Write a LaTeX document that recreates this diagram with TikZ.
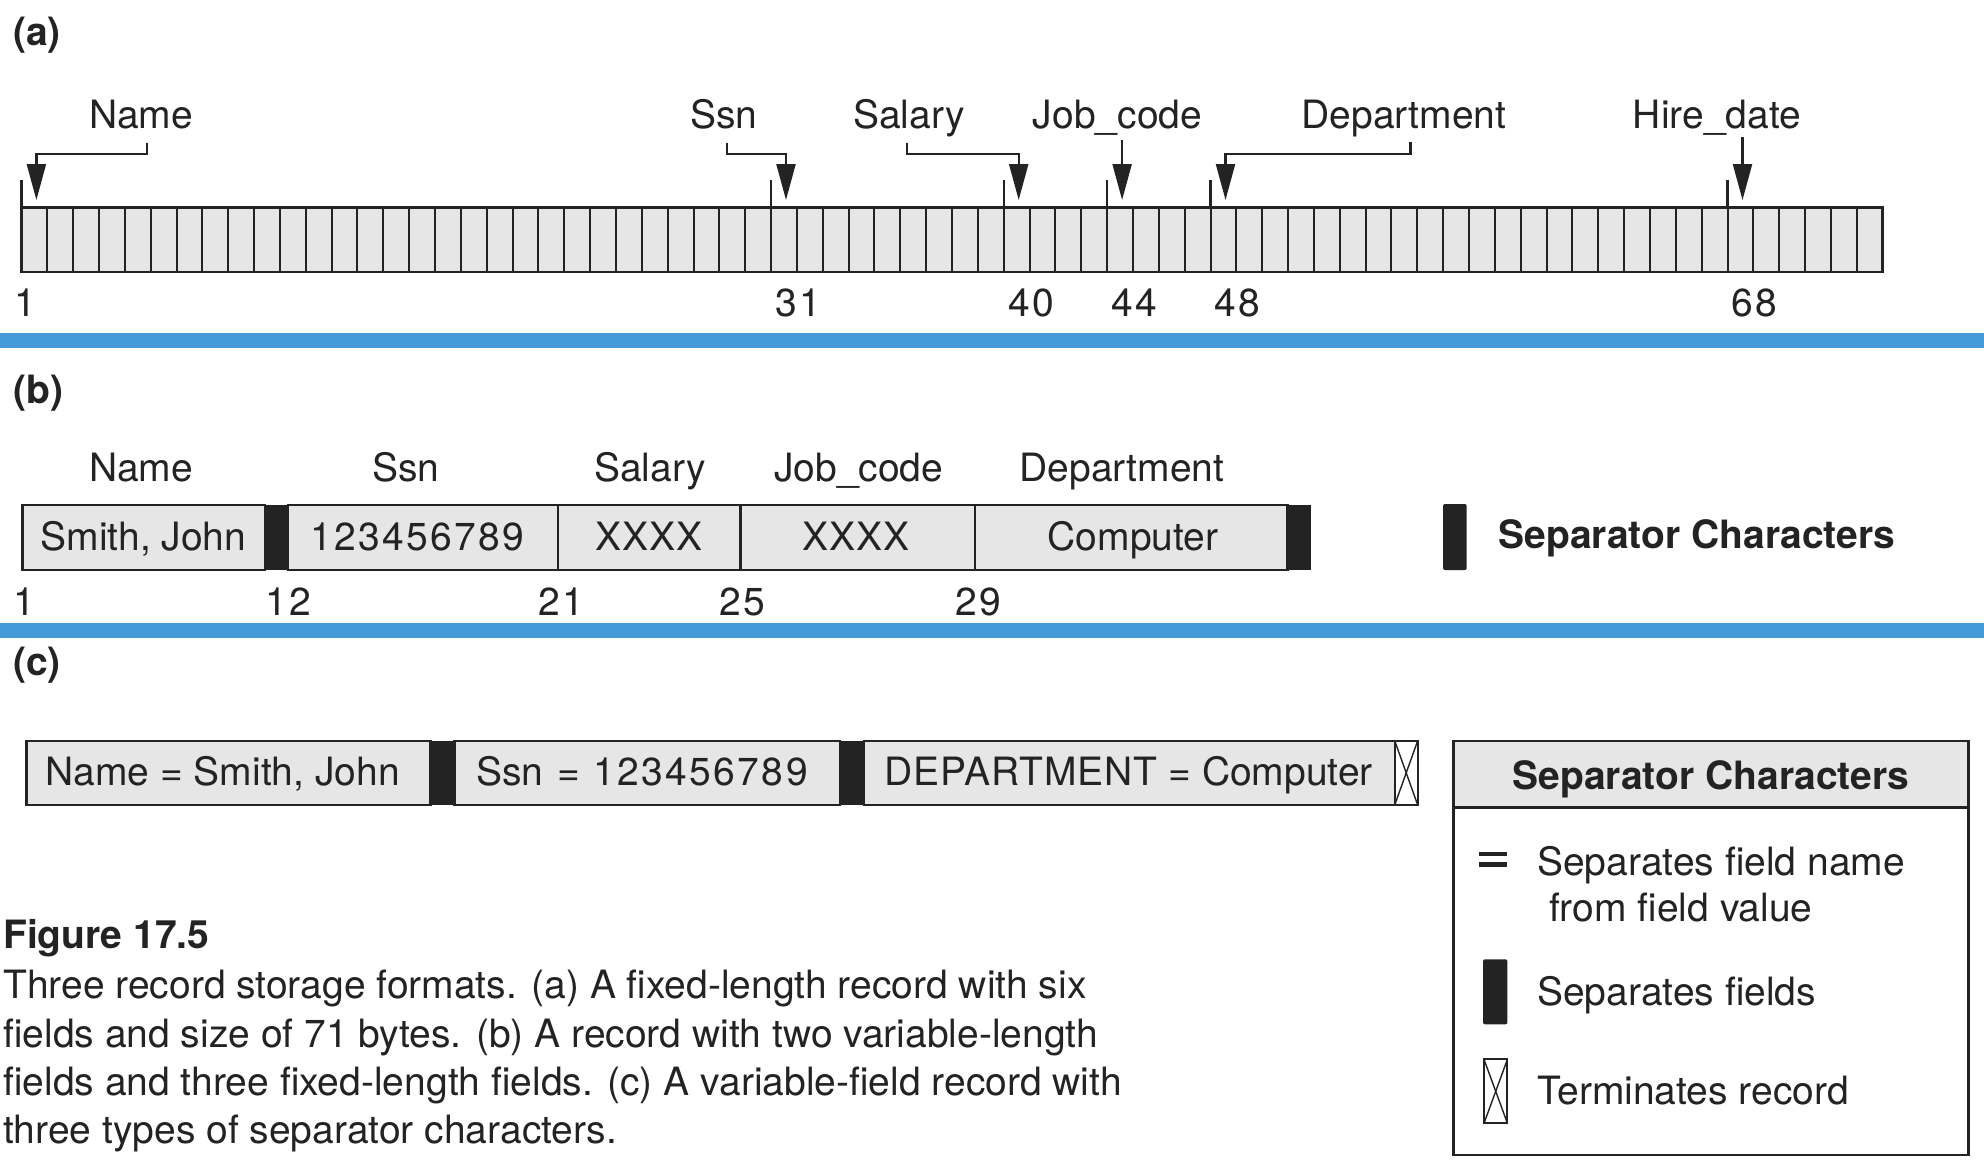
\documentclass[tikz,border=0pt]{standalone}
\usepackage{fontspec}
\setmainfont{TeX Gyre Heros}
\newfontfamily\widedigits[LetterSpace=6]{TeX Gyre Heros}
\newfontfamily\widecaps[LetterSpace=2.5]{TeX Gyre Heros}
\usetikzlibrary{arrows.meta}
\definecolor{blueband}{RGB}{68,153,215}
\definecolor{cellfill}{RGB}{230,230,230}
\definecolor{ink}{RGB}{35,35,35}
\begin{document}
\begin{tikzpicture}[x=1pt,y=-1pt,
  txt/.style={font=\fontsize{39}{46}\selectfont, inner sep=0pt, text=ink},
  btxt/.style={font=\fontsize{39}{46}\selectfont\bfseries, inner sep=0pt, text=ink},
  boxline/.style={draw=ink, line width=2.4pt},
  cellline/.style={draw=ink, line width=2pt},
  tickline/.style={draw=ink, line width=2.2pt},
  arr/.style={draw=ink, line width=2.2pt, -{Triangle[length=36pt,width=19pt]}},
  plain/.style={draw=ink, line width=2.2pt},
  sepbar/.style={fill=ink},
  fieldbox/.style={fill=cellfill, draw=ink, line width=2.4pt}]
\useasboundingbox (0,0) rectangle (1984,1162);
\fill[white] (0,0) rectangle (1984,1162);

% ---------------- (a) ----------------
\node[btxt, anchor=base west] (pa) at (13,45) {(a)};
\node[txt, anchor=base] (aName) at (141,128.3) {Name};
\node[txt, anchor=base] (aSsn) at (724,128.3) {Ssn};
\node[txt, anchor=base] (aSal) at (909,128.3) {Salary};
\node[txt, anchor=base] (aJob) at (1117.5,128.3) {Job\_code};
\node[txt, anchor=base] (aDep) at (1404,128.3) {Department};
\node[txt, anchor=base] (aHire) at (1717,128.3) {Hire\_date};

\fill[cellfill] (21.4,207.3) rectangle (1882.6,271.7);
\foreach \i in {1,...,71} \draw[cellline] ({21.4+\i*25.85},207.3) -- ++(0,64.4);
\draw[boxline] (21.4,207.3) rectangle (1882.6,271.7);
\foreach \k in {0,29,38,42,46,66} \draw[tickline] ({21.4+\k*25.85},180) -- ({21.4+\k*25.85},207.3);

\coordinate (sName) at (146.7,142.7);
\coordinate (tName) at (36.4,200);
\coordinate (sSsn) at (727,142.7);
\coordinate (tSsn) at (786,200);
\coordinate (sSal) at (906.7,142.7);
\coordinate (tSal) at (1018.7,200);
\coordinate (sJob) at (1122.1,140);
\coordinate (tJob) at (1122.1,200);
\coordinate (sDep) at (1410.4,141.7);
\coordinate (tDep) at (1225.5,200);
\coordinate (sHire) at (1742.5,137);
\coordinate (tHire) at (1742.5,200);

\draw[arr] (sName) -- (146.7,154) -| (tName);
\draw[arr] (sSsn) -- (727,154) -| (tSsn);
\draw[arr] (sSal) -- (906.7,154) -| (tSal);
\draw[arr] (sJob) -- (tJob);
\draw[arr] (sDep) -- (1410.4,154) -| (tDep);
\draw[arr] (sHire) -- (tHire);

\node[txt, anchor=base west] (n1) at (14,316.7) {1};
\node[txt, anchor=base west] (n31) at (775,316.7) {\widedigits 31};
\node[txt, anchor=base west] (n40) at (1008,316.7) {\widedigits 40};
\node[txt, anchor=base west] (n44) at (1111,316.7) {\widedigits 44};
\node[txt, anchor=base west] (n48) at (1214,316.7) {\widedigits 48};
\node[txt, anchor=base west] (n68) at (1731,316.7) {\widedigits 68};

\fill[blueband] (0,333) rectangle (1984,348);

% ---------------- (b) ----------------
\node[btxt, anchor=base west] (pb) at (13,403) {(b)};
\node[txt, anchor=base] (bName) at (141,481.7) {Name};
\node[txt, anchor=base] (bSsn) at (406,481.7) {Ssn};
\node[txt, anchor=base] (bSal) at (650,481.7) {Salary};
\node[txt, anchor=base] (bJob) at (858.7,481.7) {Job\_code};
\node[txt, anchor=base] (bDep) at (1122,481.7) {Department};

\draw[fieldbox] (22.3,505) rectangle (264.7,570);
\fill[sepbar] (264.7,505) rectangle (288,570);
\draw[fieldbox] (288,505) rectangle (558,570);
\draw[fieldbox] (558,505) rectangle (740.6,570);
\draw[fieldbox] (740.6,505) rectangle (975,570);
\draw[fieldbox] (975,505) rectangle (1287.5,570);
\fill[sepbar] (1287.5,505) rectangle (1310.7,570);

\node[txt, anchor=base] (vName) at (143.5,550) {Smith, John};
\node[txt, anchor=base] (vSsn) at (417,550) {\widedigits 123456789};
\node[txt, anchor=base] (vSal) at (649.3,550) {\widecaps XXXX};
\node[txt, anchor=base] (vJob) at (856,550) {\widecaps XXXX};
\node[txt, anchor=base] (vDep) at (1133,550) {Computer};

\node[txt, anchor=base west] (m1) at (13.4,615) {1};
\node[txt, anchor=base] (m12) at (288,615) {\widedigits 12};
\node[txt, anchor=base] (m21) at (561,615) {\widedigits 21};
\node[txt, anchor=base] (m25) at (742.6,615) {\widedigits 25};
\node[txt, anchor=base] (m29) at (978,615) {\widedigits 29};

\fill[sepbar, rounded corners=2pt] (1443,504) rectangle (1466.7,570);
\node[btxt, anchor=base west] (bLeg) at (1498.5,548.3) {Separator Characters};

\fill[blueband] (0,622.7) rectangle (1984,638.3);

% ---------------- (c) ----------------
\node[btxt, anchor=base west] (pc) at (13,675) {(c)};

\draw[fieldbox] (26.3,740.7) rectangle (430.6,805);
\fill[sepbar] (430.6,740.7) rectangle (454.5,805);
\draw[fieldbox] (454.5,740.7) rectangle (840.2,805);
\fill[sepbar] (840.2,740.7) rectangle (864.1,805);
\draw[fieldbox] (864.1,740.7) rectangle (1394.7,805);
\draw[fill=white, draw=ink, line width=2pt] (1394.7,740.7) rectangle (1417.7,805);
\draw[plain, line width=1.4pt] (1394.7,740.7) -- (1417.7,805);
\draw[plain, line width=1.4pt] (1417.7,740.7) -- (1394.7,805);

\node[txt, anchor=base west] (cName) at (45.5,785) {Name = Smith, John};
\node[txt, anchor=base west] (cSsn) at (476,785) {Ssn\kern3pt\ =\ \kern3pt{\widedigits 123456789}};
\node[txt, anchor=base west] (cDep) at (884,785) {{\widecaps DEPARTMENT} = Computer};

% legend box
\fill[cellfill] (1453.5,740.7) rectangle (1968.6,807.3);
\draw[boxline] (1453.5,740.7) rectangle (1968.6,1155);
\draw[boxline] (1453.5,807.3) -- (1968.6,807.3);
\node[btxt, anchor=base] (cLeg) at (1711,789) {Separator Characters};

\fill[ink] (1479.4,851.5) rectangle (1507.4,856);
\fill[ink] (1479.4,862) rectangle (1507.4,866.5);
\node[txt, anchor=base west] (l1a) at (1537,875) {Separates field name};
\node[txt, anchor=base west] (l1b) at (1548.8,921.7) {from field value};

\fill[sepbar, rounded corners=2pt] (1483,959.3) rectangle (1507.4,1024.3);
\node[txt, anchor=base west] (l2) at (1537,1005) {Separates fields};

\draw[fill=white, draw=ink, line width=2pt] (1484,1059.3) rectangle (1507.4,1123.3);
\draw[plain, line width=1.4pt] (1484,1059.3) -- (1507.4,1123.3);
\draw[plain, line width=1.4pt] (1507.4,1059.3) -- (1484,1123.3);
\node[txt, anchor=base west] (l3) at (1537,1104) {Terminates record};

% ---------------- caption ----------------
\node[btxt, anchor=base west] (fig) at (3,948) {Figure 17.5};
\node[txt, anchor=base west] (cap1) at (3,998) {Three record storage formats. (a) A fixed-length record with six};
\node[txt, anchor=base west] (cap2) at (3,1047) {fields and size of 71 bytes. (b) A record with two variable-length};
\node[txt, anchor=base west] (cap3) at (3,1095) {fields and three fixed-length fields. (c) A variable-field record with};
\node[txt, anchor=base west] (cap4) at (3,1143) {three types of separator characters.};
\end{tikzpicture}
\end{document}
